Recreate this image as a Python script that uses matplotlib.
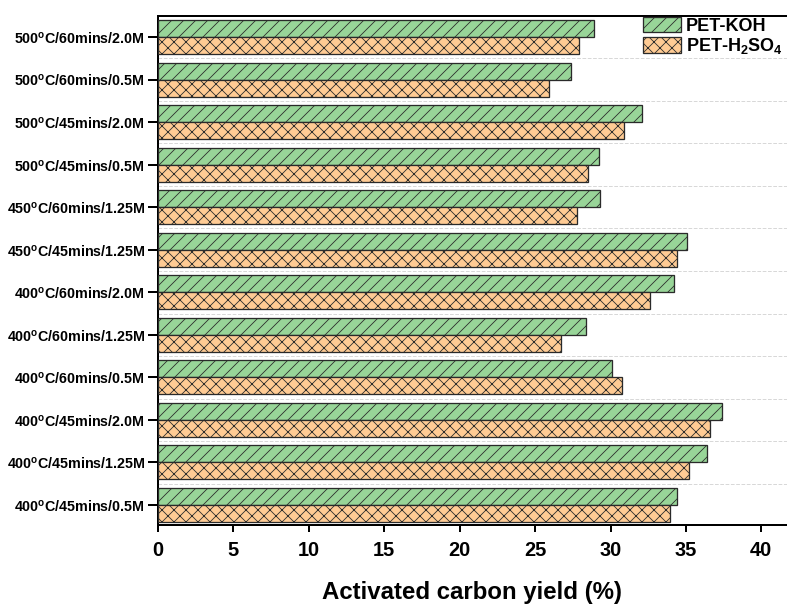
import numpy as np
import matplotlib
matplotlib.use('Agg')
import matplotlib.pyplot as plt

plt.rcParams['font.family'] = 'Liberation Sans'
plt.rcParams['font.weight'] = 'bold'
plt.rcParams['mathtext.fontset'] = 'custom'
plt.rcParams['mathtext.rm'] = 'Liberation Sans:bold'
plt.rcParams['mathtext.it'] = 'Liberation Sans:bold'
plt.rcParams['mathtext.bf'] = 'Liberation Sans:bold'
plt.rcParams['hatch.linewidth'] = 0.8

# bottom to top
conditions = ['400$^{o}$C/45mins/0.5M', '400$^{o}$C/45mins/1.25M', '400$^{o}$C/45mins/2.0M',
              '400$^{o}$C/60mins/0.5M', '400$^{o}$C/60mins/1.25M', '400$^{o}$C/60mins/2.0M',
              '450$^{o}$C/45mins/1.25M', '450$^{o}$C/60mins/1.25M', '500$^{o}$C/45mins/0.5M',
              '500$^{o}$C/45mins/2.0M', '500$^{o}$C/60mins/0.5M', '500$^{o}$C/60mins/2.0M']
pet_koh = [34.4, 36.4, 37.4, 30.1, 28.4, 34.2, 35.05, 29.3, 29.25, 32.1, 27.4, 28.9]
pet_h2so4 = [33.95, 35.2, 36.6, 30.75, 26.75, 32.6, 34.4, 27.8, 28.5, 30.9, 25.95, 27.9]

fig = plt.figure(figsize=(787/72, 605/72), dpi=72)
ax = fig.add_axes([158/787, 1 - 525/605, 1 - 158/787, (525 - 15.5)/605])

y = np.arange(len(conditions))
h = 0.4
ax.barh(y + h/2, pet_koh, height=h, color='#98D598', edgecolor='#2a2a2a',
        linewidth=1.3, hatch='//', label='PET-KOH', zorder=3)
ax.barh(y - h/2, pet_h2so4, height=h, color='#FFCB94', edgecolor='#2a2a2a',
        linewidth=1.3, hatch='xx', label='PET-H$_2$SO$_4$', zorder=3)

ax.set_xlim(0, 41.7)
ax.set_ylim(-0.47, len(conditions) - 0.494)
ax.set_yticks(y)
ax.set_yticklabels(conditions, fontsize=14.3)
ax.set_yticks(y[:-1] + 0.5, minor=True)
ax.grid(axis='y', which='minor', color='#d8d8d8', linestyle='--', linewidth=1, zorder=0)
ax.tick_params(axis='y', which='minor', length=0)
ax.tick_params(axis='y', which='major', length=10, width=2, direction='out', pad=3)
ax.set_xticks(np.arange(0, 41, 5))
ax.tick_params(axis='x', labelsize=20, length=7, width=2, direction='out', pad=9)
ax.set_xlabel('Activated carbon yield (%)', fontsize=24, fontweight='bold', labelpad=21)

ax.spines['right'].set_visible(False)
for s in ['left', 'top', 'bottom']:
    ax.spines[s].set_linewidth(2)

ax.legend(loc='upper right', bbox_to_anchor=(1.005, 1.012), frameon=False, fontsize=18,
          borderaxespad=0, handlelength=2.1, handleheight=0.95, labelspacing=0.1,
          handletextpad=0.3)

fig.savefig('out.png', dpi=72)
